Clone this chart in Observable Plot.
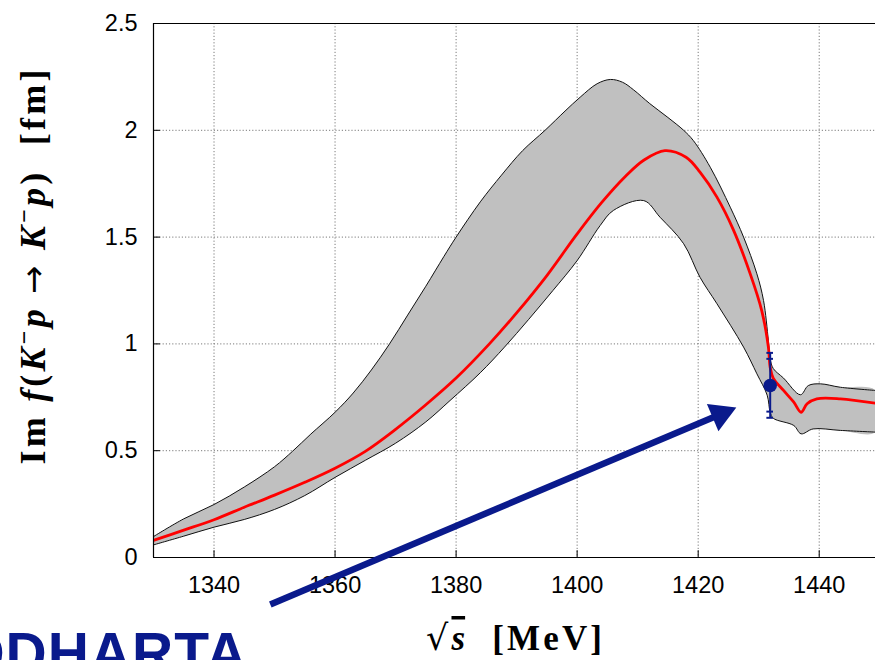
<!DOCTYPE html>
<html><head><meta charset="utf-8">
<script src="https://cdn.jsdelivr.net/npm/d3@7"></script>
<script src="https://cdn.jsdelivr.net/npm/@observablehq/plot@0.6"></script>
<style>
body{margin:0;background:#fff;overflow:hidden}
#chart{position:relative;width:875px;height:660px}
</style>
</head><body><div id="chart"></div>
<script>
// ---- data ----
const upperX = [1330,1335,1340,1345,1350,1353,1356,1360,1363,1366,1369,1372,1375,1378,1380,1384,1387.5,1391,1394.7,1398,1400.5,1403.3,1405.5,1407.5,1409.3,1412,1415,1417.6,1419.2,1422,1425.3,1427.5,1429.7,1430.8,1431.6,1431.9,1432.4,1434.1,1436.9,1438.2,1440.2,1443.5,1449.3];
const upperY = [0.098,0.181,0.248,0.330,0.425,0.498,0.578,0.680,0.770,0.878,1.0,1.135,1.27,1.41,1.50,1.665,1.79,1.905,2.0,2.09,2.155,2.218,2.238,2.225,2.19,2.125,2.06,2.0,1.952,1.827,1.64,1.5,1.328,1.203,1.016,0.93,0.885,0.84,0.762,0.805,0.813,0.797,0.782];

const centerX = [1330,1335,1340,1345,1350,1355,1360,1365,1370,1375,1380,1385.5,1390,1395,1400,1404,1408,1411,1414.5,1418,1420.3,1423.1,1425.8,1428.6,1430.5,1431.6,1431.9,1432.4,1434.1,1435.8,1437,1438,1439.6,1443.5,1449.3];
const centerY = [0.08,0.128,0.177,0.235,0.292,0.352,0.418,0.497,0.60,0.715,0.84,1.0,1.145,1.32,1.515,1.66,1.785,1.86,1.905,1.874,1.804,1.687,1.535,1.328,1.156,0.985,0.89,0.84,0.782,0.727,0.68,0.72,0.743,0.743,0.722];

const lowerX = [1330,1335,1340,1345,1350,1355,1360,1365,1370,1375,1379,1384,1388,1392,1396,1400,1403.8,1406,1411,1413.7,1417.6,1420.3,1423.1,1427.5,1429.7,1431.4,1431.9,1432.4,1435.8,1437,1439,1443.5,1449.3];
const lowerY = [0.059,0.10,0.142,0.178,0.225,0.29,0.375,0.455,0.535,0.635,0.735,0.865,0.985,1.115,1.25,1.39,1.554,1.625,1.671,1.593,1.469,1.312,1.188,0.985,0.86,0.76,0.68,0.652,0.618,0.579,0.602,0.595,0.587];

const measX = [1431.9];
const measY = [0.805];
const statLow = [0.683], statHigh = [0.930];
const totLow = [0.654], totHigh = [0.958];

const arrowFrom = [1349.3, -0.22];
const arrowTo = [1426.3, 0.702];

const xTicks = [1340,1360,1380,1400,1420,1440];
const yTicks = [0,0.5,1,1.5,2,2.5];
const xDomain = [1330, 1449.3];
const yDomain = [0, 2.5];

// ---- build tables ----
const upper = upperX.map((x,i)=>({x, y: upperY[i]}));
const lower = lowerX.map((x,i)=>({x, y: lowerY[i]}));
const center = centerX.map((x,i)=>({x, y: centerY[i]}));
const band = upper.concat(lower.slice().reverse());
const meas = measX.map((x,i)=>({x, y: measY[i], sl: statLow[i], sh: statHigh[i], tl: totLow[i], th: totHigh[i]}));
const caps = meas.flatMap(d => [d.sl, d.sh, d.tl, d.th].map(v => ({x: d.x, y: v})));

const W = 875, H = 660, mL = 153, mR = 0, mT = 23, mB = 103;
const navy = "#0a1a8c";

// arrow head geometry (same mapping as the plot's scales)
const sx = d3.scaleLinear(xDomain, [mL, W - mR]);
const sy = d3.scaleLinear(yDomain, [H - mB, mT]);
const px0 = sx(arrowFrom[0]), py0 = sy(arrowFrom[1]);
const px1 = sx(arrowTo[0]), py1 = sy(arrowTo[1]);
const ang = Math.atan2(py1 - py0, px1 - px0);
const headR = 11;
const back = 1.555 * headR;
const hc = {x: sx.invert(px1 - back*Math.cos(ang)), y: sy.invert(py1 - back*Math.sin(ang))};
const arrowLine = [{x1: arrowFrom[0], y1: arrowFrom[1], x2: hc.x, y2: hc.y}];
const rot = ang*180/Math.PI + 90;

const grid = {stroke: "#7a7a7a", strokeWidth: 1, strokeDasharray: "1.2,2"};

const chart = Plot.plot({
  width: W, height: H,
  marginLeft: mL, marginRight: mR, marginTop: mT, marginBottom: mB,
  style: {fontFamily: "'Liberation Sans', Helvetica, Arial, sans-serif", fontSize: "23.5px", background: "#fff"},
  x: {domain: xDomain, ticks: xTicks},
  y: {domain: yDomain, ticks: yTicks},
  marks: [
    Plot.ruleX(xTicks, {...grid}),
    Plot.ruleY(yTicks.filter(d => d > 0 && d < 2.5), {...grid}),
    Plot.line(band, {x: "x", y: "y", fill: "#c0c0c0", stroke: "none", curve: "catmull-rom", clip: true}),
    Plot.line(upper, {x: "x", y: "y", stroke: "#111", strokeWidth: 1, curve: "catmull-rom", clip: true}),
    Plot.line(lower, {x: "x", y: "y", stroke: "#111", strokeWidth: 1, curve: "catmull-rom", clip: true}),
    Plot.line(center, {x: "x", y: "y", stroke: "#ff0000", strokeWidth: 2.8, curve: "catmull-rom", clip: true}),
    // frame
    Plot.ruleX([xDomain[0]], {stroke: "#000", strokeWidth: 1.2}),
    Plot.ruleY([yDomain[0], yDomain[1]], {stroke: "#000", strokeWidth: 1.2}),
    // inward ticks
    Plot.ruleX(xTicks, {y1: 0, y2: 0.032, stroke: "#000"}),
    Plot.ruleY(yTicks, {x1: xDomain[0], x2: xDomain[0] + 1.15, stroke: "#000"}),
    Plot.axisX({ticks: xTicks, tickSize: 0, tickPadding: 19, tickFormat: d => `${d}`, label: null}),
    Plot.axisY({ticks: yTicks, tickSize: 0, tickPadding: 16, tickFormat: d => `${d}`, label: null}),
    // measurement
    Plot.ruleX(meas, {x: "x", y1: "tl", y2: "th", stroke: navy, strokeWidth: 2}),
    Plot.ruleY(caps, {y: "y", x1: d => d.x - 0.55, x2: d => d.x + 0.55, stroke: navy, strokeWidth: 2}),
    Plot.dot(meas, {x: "x", y: "y", r: 6.8, fill: navy, stroke: "none"}),
    // arrow
    Plot.link(arrowLine, {x1: "x1", y1: "y1", x2: "x2", y2: "y2", stroke: navy, strokeWidth: 6.5, clip: false}),
    Plot.dot([hc], {x: "x", y: "y", symbol: "triangle", r: headR, rotate: rot, fill: navy, stroke: "none", clip: false})
  ]
});

const svg = d3.select(chart).style("overflow", "hidden");
const serif = "'Liberation Serif', 'Times New Roman', serif";

// y axis title
const yl = svg.append("text")
  .attr("transform", "translate(45,267) rotate(-90)")
  .attr("text-anchor", "middle")
  .attr("xml:space", "preserve")
  .attr("textLength", 395)
  .attr("lengthAdjust", "spacing")
  .style("font-family", serif)
  .style("font-weight", "bold")
  .style("font-size", "36px")
  .attr("fill", "#000");
const parts = [
  ["Im ", "normal"], ["f", "italic"], ["(", "normal"], ["K", "italic"], ["−", "sup"], ["p", "italicback"],
  [" ", "normal"], ["→", "arrow"], [" ", "normal"], ["K", "italic"], ["−", "sup"], ["p", "italicback"], [")", "normal"], ["  [fm]", "normal"]
];
parts.forEach(([t, s]) => {
  const ts = yl.append("tspan").text(t);
  if (s === "italic" || s === "italicback") ts.style("font-style", "italic");
  if (s === "sup") ts.attr("dy", "-13px").style("font-size", "24px");
  if (s === "italicback") ts.attr("dy", "13px");
  if (s === "arrow") ts.style("font-family", "'DejaVu Sans', sans-serif").style("font-weight", "normal").style("font-size", "34px");
});

// x axis title
const xl = svg.append("text")
  .attr("x", 514).attr("y", 650)
  .attr("text-anchor", "middle")
  .attr("xml:space", "preserve")
  .attr("textLength", 176)
  .attr("lengthAdjust", "spacing")
  .style("font-family", serif)
  .style("font-weight", "bold")
  .style("font-size", "35px")
  .attr("fill", "#000");
xl.append("tspan").text("√").style("font-family", "'DejaVu Serif', serif").style("font-weight", "normal");
xl.append("tspan").text("s").style("font-style", "italic").style("text-decoration", "overline");
xl.append("tspan").text("  [MeV]");

// logo text (cut by the page edge, as in the reference)
svg.append("text")
  .attr("x", 248).attr("y", 673)
  .attr("text-anchor", "end")
  .style("font-family", "'Liberation Sans', Arial, sans-serif")
  .style("font-weight", "bold")
  .style("font-size", "57px")
  .style("letter-spacing", "1px")
  .attr("fill", navy)
  .text("SIDDHARTA");

document.getElementById("chart").appendChild(chart);
</script>
</body></html>
